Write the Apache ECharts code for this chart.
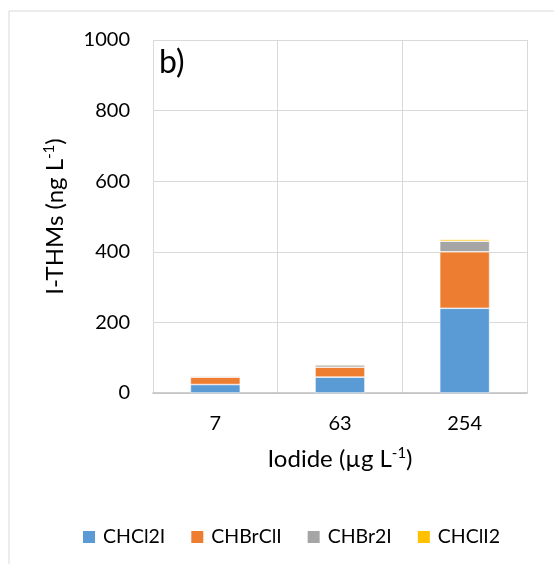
<!DOCTYPE html>
<html>
<head>
<meta charset="utf-8">
<script src="https://cdn.jsdelivr.net/npm/echarts@6/dist/echarts.min.js"></script>
<style>
  html, body { margin: 0; padding: 0; background: #fff; }
  #chart { width: 554px; height: 564px; }
</style>
</head>
<body>
<div id="chart"></div>
<script>
// Iodide dose levels (µg/L) on the category axis
const iodideLevels = ['7', '63', '254'];

// I-THM species concentrations (ng/L), stacked per iodide level
const chcl2i = [24, 45, 240];
const chbrcli = [21, 28, 160];
const chbr2i = [3.5, 6.5, 30];
const chcli2 = [0.5, 2, 5];

const yTicks = [0, 200, 400, 600, 800, 1000];

const FONT = 'Lato, "Open Sans", sans-serif';
const palette = ['#5B9BD5', '#ED7D31', '#A5A5A5', '#FFC000'];

const seriesDefs = [
  { name: 'CHCl2I', data: chcl2i },
  { name: 'CHBrClI', data: chbrcli },
  { name: 'CHBr2I', data: chbr2i },
  { name: 'CHClI2', data: chcli2 }
];

const chart = echarts.init(document.getElementById('chart'), null, { renderer: 'canvas' });

const titleRich = {
  t: { fontSize: 24, color: '#000', fontFamily: FONT },
  s: { fontSize: 15, color: '#000', fontFamily: FONT, verticalAlign: 'top', padding: [0, 0, 12, 0] }
};

chart.setOption({
  animation: false,
  color: palette,
  textStyle: { fontFamily: FONT },
  grid: { left: 153, right: 27, top: 40, bottom: 171, containLabel: false },
  graphic: [
    {
      type: 'rect',
      shape: { x: 9, y: 11, width: 700, height: 700 },
      style: { fill: 'none', stroke: '#d9d9d9', lineWidth: 1 },
      z: -1
    },
    {
      type: 'text',
      left: 159,
      top: 47,
      style: { text: 'b)', fontSize: 32, fontFamily: FONT, fill: '#000' }
    }
  ],
  legend: {
    bottom: 12,
    left: 76,
    itemWidth: 14,
    itemHeight: 14,
    itemGap: 24,
    icon: 'rect',
    textStyle: { fontSize: 19.5, color: '#000', fontFamily: FONT, padding: [0, 0, 0, 2] },
    data: seriesDefs.map(s => s.name)
  },
  xAxis: {
    type: 'category',
    data: iodideLevels,
    name: '{t|Iodide (µg L}{s|-1}{t|)}',
    nameLocation: 'middle',
    nameGap: 53,
    nameTextStyle: { rich: titleRich },
    axisLine: { show: true, lineStyle: { color: '#bfbfbf', width: 1.5 } },
    axisTick: { show: false },
    axisLabel: { fontSize: 20, color: '#000', margin: 21, fontFamily: FONT },
    splitLine: { show: true, lineStyle: { color: '#d9d9d9', width: 1 } }
  },
  yAxis: {
    type: 'value',
    min: yTicks[0],
    max: yTicks[yTicks.length - 1],
    interval: yTicks[1] - yTicks[0],
    name: '{t|I-THMs (ng L}{s|-1}{t|)}',
    nameLocation: 'middle',
    nameRotate: 90,
    nameGap: 84,
    nameTextStyle: { rich: titleRich },
    axisLine: { show: false },
    axisTick: { show: false },
    axisLabel: {
      fontSize: 20, color: '#000', margin: 23, fontFamily: FONT,
      formatter: v => String(v)
    },
    splitLine: { show: true, lineStyle: { color: '#d9d9d9', width: 1 } }
  },
  series: seriesDefs.map(s => ({
    name: s.name,
    type: 'bar',
    stack: 'ithm',
    barWidth: '40%',
    data: s.data,
    itemStyle: { borderColor: '#ffffff', borderWidth: 0.6 }
  }))
});
</script>
</body>
</html>
